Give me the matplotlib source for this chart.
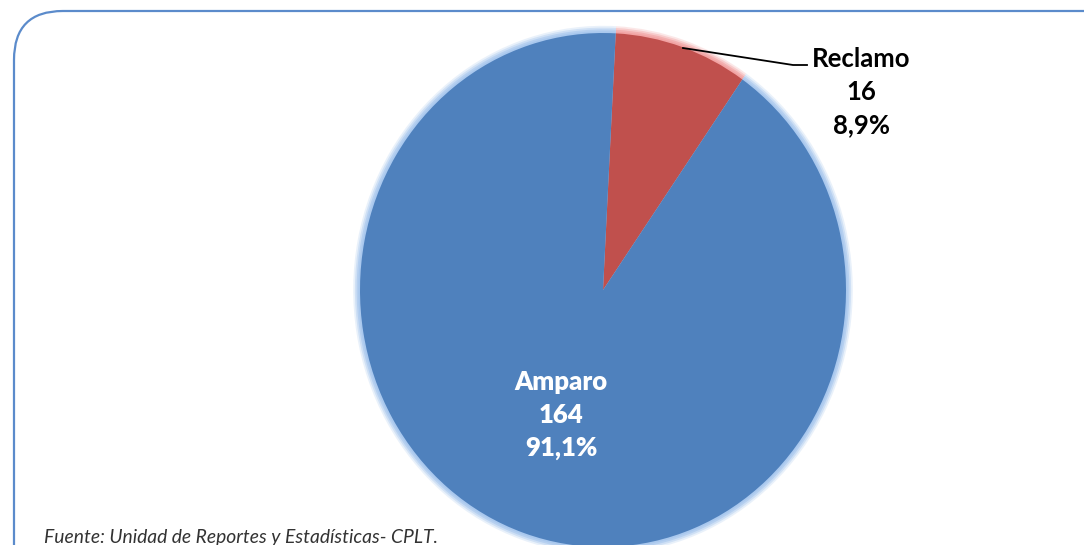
import numpy as np
import matplotlib
matplotlib.use("Agg")
import matplotlib.pyplot as plt
from matplotlib.patches import FancyBboxPatch, Wedge

# Datos
categorias = ["Reclamo", "Amparo"]
valores = [16, 164]
porcentajes = ["8,9%", "91,1%"]
colores = ["#C0504D", "#4F81BD"]
brillos = ["#F2A3A3", "#A9C8EE"]
fuente = "Fuente: Unidad de Reportes y Estadísticas- CPLT."

W, H = 1084, 545
fig = plt.figure(figsize=(W / 100, H / 100), dpi=100)
ax = fig.add_axes([0, 0, 1, 1])

# coordenadas: centro del gráfico en (603, 290) px, radio 243 x 257 px
cx, cy, rx, ry = 603, 290, 243, 257

# marco redondeado (en píxeles de la figura)
marco = FancyBboxPatch((14 / W, -0.2), 1.2, (H - 11) / H + 0.2,
                       boxstyle="round,pad=0,rounding_size=0.045",
                       transform=fig.transFigure, fill=False,
                       edgecolor="#5B8BCB", linewidth=1.6,
                       mutation_aspect=W / H)
fig.patches.append(marco)

# brillo alrededor de las porciones
total = sum(valores)
inicio = 87.0
angulos = []
a = inicio
for v in valores:
    a2 = a - v / total * 360
    angulos.append((a2, a))
    a = a2
for (t1, t2), c in zip(angulos, brillos):
    for r, al in [(1.028, 0.25), (1.021, 0.4), (1.014, 0.65), (1.007, 0.95)]:
        ax.add_patch(Wedge((0, 0), r, t1, t2, facecolor=c, edgecolor="none", alpha=al))

ax.pie(valores, colors=colores, startangle=inicio, counterclock=False,
       radius=1, center=(0, 0), frame=True,
       wedgeprops=dict(linewidth=0))
ax.set_xlim((0 - cx) / rx, (W - cx) / rx)
ax.set_ylim((cy - H) / ry, cy / ry)
ax.set_aspect("auto")
ax.axis("off")

def px(x, y):
    return (x - cx) / rx, (cy - y) / ry

# etiqueta Amparo (dentro)
ax.text(*px(561, 415), f"{categorias[1]}\n{valores[1]}\n{porcentajes[1]}",
        ha="center", va="center", color="white", fontsize=18.5,
        fontweight="heavy", family="Lato", linespacing=1.44)

# etiqueta Reclamo (fuera, con línea guía)
lx = [px(683, 48)[0], px(793, 65)[0], px(807, 65)[0]]
ly = [px(683, 48)[1], px(793, 65)[1], px(807, 65)[1]]
ax.plot(lx, ly, color="black", linewidth=1.3)
ax.text(*px(861, 92), f"{categorias[0]}\n{valores[0]}\n{porcentajes[0]}",
        ha="center", va="center", color="black", fontsize=18.5,
        fontweight="bold", family="Lato", linespacing=1.44)

# fuente
fig.text(44 / W, 1 - 529 / H, fuente, ha="left", va="top", fontsize=13.9,
         style="italic", family="Lato", color="#333333")

fig.savefig("out.png", dpi=100)
